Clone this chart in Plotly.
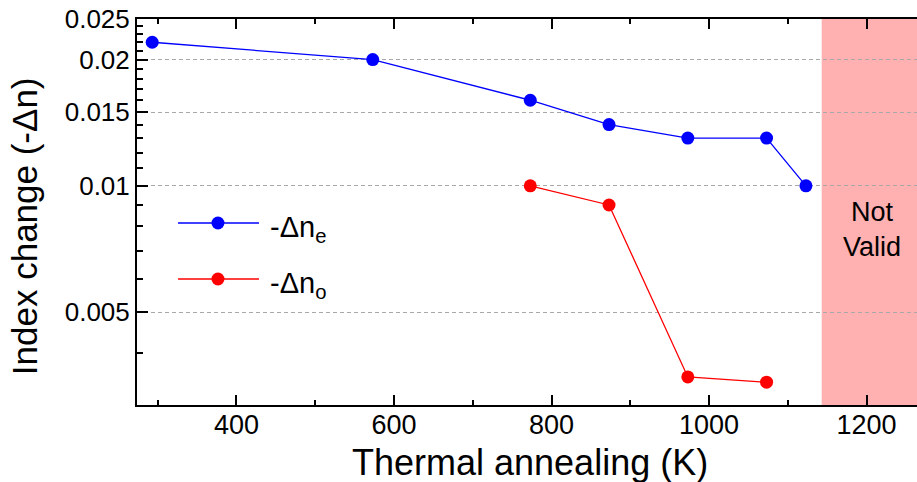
import numpy as np
import plotly.graph_objects as go

# Annealing temperatures (K) and refractive-index changes (-Δn)
temp_e = [293, 573, 773, 873, 973, 1073, 1123]
dn_e = [0.022, 0.020, 0.016, 0.014, 0.013, 0.013, 0.010]
temp_o = [773, 873, 973, 1073]
dn_o = [0.010, 0.009, 0.0035, 0.0034]

x_ticks = [400, 600, 800, 1000, 1200]
x_minor = [300, 500, 700, 900, 1100]
y_ticks = [0.005, 0.01, 0.015, 0.02, 0.025]
y_tick_text = ["0.005", "0.01", "0.015", "0.02", "0.025"]
y_minor = [0.003, 0.004, 0.006, 0.007, 0.008, 0.009, 0.011, 0.012, 0.013, 0.014,
           0.016, 0.017, 0.018, 0.019, 0.021, 0.022, 0.023, 0.024]
invalid_from = 1143

FONT = "Arial, Liberation Sans, sans-serif"
BLUE = "#0000FF"
RED = "#FF0000"

fig = go.Figure()
fig.add_trace(go.Scatter(x=temp_e, y=dn_e, mode="lines+markers", name="-Δn<sub>e</sub>",
                         line=dict(color=BLUE, width=1.3),
                         marker=dict(color=BLUE, size=13), showlegend=False))
fig.add_trace(go.Scatter(x=temp_o, y=dn_o, mode="lines+markers", name="-Δn<sub>o</sub>",
                         line=dict(color=RED, width=1.3),
                         marker=dict(color=RED, size=13), showlegend=False))

x_range = [273.7, 1264]
y_range = [np.log10(0.003), np.log10(0.025)]

# shaded "not valid" temperature band
fig.add_shape(type="rect", xref="x", yref="paper", x0=invalid_from, x1=x_range[1] + 20,
              y0=0, y1=1, fillcolor="rgba(255,0,0,0.31)", line_width=0, layer="below")
fig.add_annotation(x=(invalid_from + x_range[1]) / 2 + 3, y=np.log10(0.0074), xref="x", yref="y",
                   yshift=11, text="Not<br>Valid", showarrow=False, align="center",
                   font=dict(family=FONT, size=27, color="black"))

# legend keys
legend_rows = [(0.4715, BLUE, "-Δn<sub>e</sub>"), (0.3264, RED, "-Δn<sub>o</sub>")]
for ypos, col, label in legend_rows:
    fig.add_shape(type="line", xref="paper", yref="paper", x0=0.0526, x1=0.1564,
                  y0=ypos, y1=ypos, line=dict(color=col, width=1.3))
    fig.add_shape(type="circle", xref="paper", yref="paper", xsizemode="pixel", ysizemode="pixel",
                  xanchor=0.1038, yanchor=ypos, x0=-6.5, x1=6.5, y0=-6.5, y1=6.5,
                  fillcolor=col, line_width=0)
    fig.add_annotation(x=0.168, y=ypos, xref="paper", yref="paper", text=label,
                       showarrow=False, xanchor="left", yanchor="middle", yshift=-6,
                       font=dict(family=FONT, size=29, color="black"))

# axis titles
fig.add_annotation(x=0.504, y=-0.149, xref="paper", yref="paper", text="Thermal annealing (K)",
                   showarrow=False, xanchor="center", yanchor="middle",
                   font=dict(family=FONT, size=36, color="black"))
fig.add_annotation(x=-0.145, y=0.463, xref="paper", yref="paper", text="Index change (-Δn)",
                   showarrow=False, textangle=-90, xanchor="center", yanchor="middle",
                   font=dict(family=FONT, size=35, color="black"))

fig.update_layout(
    width=917, height=482,
    margin=dict(l=137, r=0, t=19, b=77),
    plot_bgcolor="white", paper_bgcolor="white",
    font=dict(family=FONT, color="black"),
    xaxis=dict(range=x_range, tickmode="array", tickvals=x_ticks,
               ticks="inside", ticklen=10, tickwidth=2, tickcolor="black",
               showline=True, linewidth=2, linecolor="black", mirror="ticks",
               showgrid=False, zeroline=False, ticklabelstandoff=-5,
               tickfont=dict(family=FONT, size=27, color="black"),
               minor=dict(tickmode="array", tickvals=x_minor, ticks="inside",
                          ticklen=5, tickwidth=2, tickcolor="black", showgrid=False)),
    yaxis=dict(type="log", range=y_range, tickmode="array", tickvals=y_ticks, ticktext=y_tick_text,
               ticks="inside", ticklen=11, tickwidth=2, tickcolor="black",
               showline=True, linewidth=2, linecolor="black", mirror=False,
               showgrid=True, gridcolor="#A8A8A8", gridwidth=1, griddash="4px,3px",
               zeroline=False, ticklabelstandoff=0,
               tickfont=dict(family=FONT, size=26, color="black"),
               minor=dict(tickmode="array", tickvals=y_minor, ticks="inside",
                          ticklen=6, tickwidth=2, tickcolor="black", showgrid=False)),
    yaxis2=dict(type="log", range=y_range, overlaying="y", side="right", anchor="x",
                tickmode="array", tickvals=y_ticks, ticks="inside", ticklen=5, tickwidth=2,
                tickcolor="black", showticklabels=False, showline=False, showgrid=False,
                zeroline=False),
)

fig.write_html("out.html")
